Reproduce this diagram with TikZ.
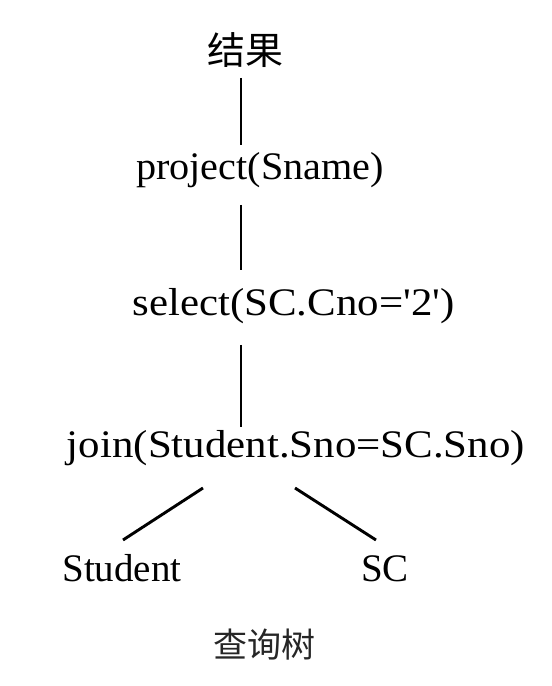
\documentclass[tikz,border=0pt]{standalone}
\usepackage{fontspec}
\setmainfont{Liberation Serif}
\newfontfamily\cjk{Noto Sans CJK SC}
\usetikzlibrary{calc}
\begin{document}
\begin{tikzpicture}[x=1pt,y=1pt,
  lbl/.style={inner sep=0pt, font=\fontsize{39}{44}\selectfont},
  cjklbl/.style={inner sep=0pt, font=\cjk\fontsize{38}{44}\selectfont},
  edge/.style={line width=2.9pt}]
\useasboundingbox (0,0) rectangle (552,686);
\node[cjklbl] (res) at (245,636) {结果};
\node[lbl, anchor=base] (proj) at (260,506) {\scalebox{1.03}[1]{project(Sname)}};
\node[lbl, anchor=base] (sel) at (293.5,370) {\scalebox{1.1}[1]{select(SC.Cno=\textquotesingle 2\textquotesingle)}};
\node[lbl, anchor=base] (join) at (296,228) {\scalebox{1.1}[1]{join(Student.Sno=SC.Sno)}};
\node[lbl, anchor=base] (stu) at (122,104) {Student};
\node[lbl, anchor=base] (sc) at (385,104) {SC};
\node[cjklbl, font=\cjk\fontsize{34}{40}\selectfont, text=black!85] (cap) at (264,41) {查询树};
\coordinate (lx) at (241,0);
\draw[edge] ($(res.center -| lx)+(0,-28)$) -- ($(proj.base -| lx)+(0,35)$);
\draw[edge] ($(proj.base -| lx)+(0,-25)$) -- ($(sel.base -| lx)+(0,46)$);
\draw[edge] ($(sel.base -| lx)+(0,-29)$) -- ($(join.base -| lx)+(0,31)$);
\draw[edge] ($(join.base)+(-93,-30)$) -- ($(stu.base)+(1,42)$);
\draw[edge] ($(join.base)+(-1,-30)$) -- ($(sc.base)+(-9,42)$);
\end{tikzpicture}
\end{document}
